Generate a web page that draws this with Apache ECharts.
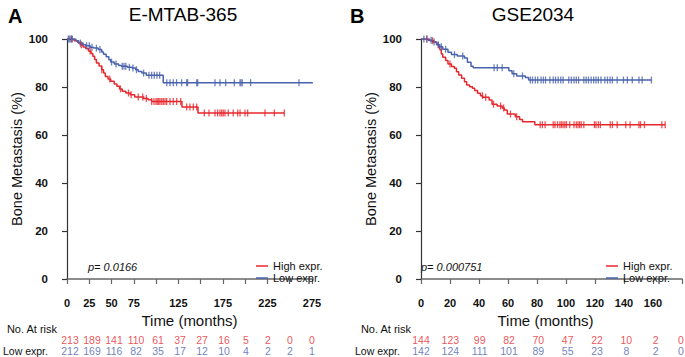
<!DOCTYPE html>
<html>
<head>
<meta charset="utf-8">
<script src="https://cdn.jsdelivr.net/npm/echarts@6/dist/echarts.min.js"></script>
<style>
html, body { margin: 0; padding: 0; background: #fff; }
#main { width: 685px; height: 357px; }
</style>
</head>
<body>
<div id="main"></div>
<script>
// panel A : E-MTAB-365
var timeHighA = [0, 8, 12, 15, 18, 21, 24, 27, 29, 31, 33, 36, 39, 41, 43, 46, 49, 53, 56, 59, 62, 66, 71, 76, 86, 91, 95, 129, 147];
var survHighA = [100, 99.3, 98.5, 97.6, 96.7, 96, 95, 94, 92.8, 91.5, 90, 88.8, 87.2, 85.8, 84.4, 83.3, 82.4, 81.3, 80.3, 79.2, 78.2, 77.5, 76.8, 75.8, 75.2, 74.7, 74.0, 71.7, 69.2];
var endHighA = 244;
var censHighA = [5, 16, 26, 39, 48, 60, 69, 72, 80, 85, 89, 95, 97.6, 99.9, 101.3, 102.9, 104.4, 106.3, 108.1, 110, 111.9, 115.6, 119.3, 123.1, 127.6,
  134.3, 138, 141.8, 145.6, 154.1, 159.4, 166.1, 169.1, 171.7, 173.6, 175.4, 177.3, 181, 186.6, 191.6, 194.2, 199.8, 202.8, 222.2, 232.7, 243.9];

var timeLowA = [0, 10, 13, 18, 21, 26, 30, 35, 39, 41, 44, 47, 49, 53, 58, 61, 68, 73, 77, 80, 84, 89, 108];
var survLowA = [100, 99.3, 98.3, 97.6, 97.2, 96.6, 96.2, 95.6, 94.6, 93.6, 92.6, 91.4, 90.4, 89.6, 89.0, 88.6, 88.2, 87.9, 87.2, 86.5, 85.8, 84.9, 81.8];
var endLowA = 276;
var censLowA = [1.5, 3, 4.5, 6, 15, 22, 25, 28, 33, 37, 50, 55, 62, 64, 66, 70, 74, 78, 86, 92, 95, 98, 101, 104,
  112, 115.6, 119.3, 123, 128.7, 134.3, 135.4, 145.6, 146.7, 166.1, 171.7, 178.1, 187.8, 194.2, 195.3, 196.7, 206.1, 260.4, 276];

var riskTimesA = [0, 25, 50, 75, 100, 125, 150, 175, 200, 225, 250, 275];
var riskHighA = [213, 189, 141, 110, 61, 37, 27, 16, 5, 2, 0, 0];
var riskLowA = [212, 169, 116, 82, 35, 17, 12, 10, 4, 2, 2, 1];
var xLabelsA = [0, 25, 50, 75, 125, 175, 225, 275];

// panel B : GSE2034
var timeHighB = [0, 6, 9, 11, 12, 13, 14, 15, 17, 18.6, 21, 23, 24.5, 26, 28, 30, 31.5, 33.5, 35.5, 37, 39, 41, 42.5, 47, 49, 52.5, 56, 57.5, 59.5, 65, 68, 70, 78.5];
var survHighB = [100, 99.3, 98.6, 97.9, 96.5, 95.5, 93.8, 92.4, 91, 89.6, 88.5, 87.8, 86.4, 85, 83.6, 82.2, 80.8, 80.1, 79.5, 78.5, 77.4, 76.4, 75.7, 74.6, 72.8, 72.1, 71.3, 70.4, 68.75, 67.6, 66.5, 65.5, 64.3];
var endHighB = 168.4;
var censHighB = [4, 8, 20, 42.4, 44.6, 50, 54.9, 57, 61.7, 66, 82.2, 83.7, 85.6, 91.2, 92.4, 94.2, 95.8, 96.9, 98, 99.2, 100.3, 102.6, 105.5, 107.1, 108.3,
  109.4, 110.5, 112.3, 119.6, 120.7, 122.3, 123.7, 130.5, 132, 135.3, 141.2, 144.2, 150.3, 151.4, 154.1, 166.1, 168.4];

var timeLowB = [0, 5, 8, 10.7, 13, 15, 18.6, 21, 25, 30, 32, 34.5, 36, 60.6, 62.8, 66, 72, 74.2];
var survLowB = [100, 99.5, 98.7, 97.6, 96.8, 95.7, 94.5, 93.5, 92.9, 92.1, 90.3, 88.6, 88.0, 86.8, 85.5, 84.6, 84.0, 82.9];
var endLowB = 158.9;
var censLowB = [2, 4, 7, 9, 12, 14, 17, 23.1, 28.8, 50.4, 52.6, 56, 64, 70, 75.4, 76.9, 78.8, 80.5, 82.8, 84.4, 85.9, 88.9, 91.2, 92.8, 94.6,
  96.4, 98, 101.9, 103.7, 105.5, 107.1, 108.7, 112.3, 113.9, 115.5, 117.3, 119.1, 120.7, 122.3, 124.1, 126.8, 128.6, 130.4, 132, 135.3,
  139.6, 142.3, 145.7, 150.3, 152.5, 158.9];

var riskTimesB = [0, 20, 40, 60, 80, 100, 120, 140, 160, 180];
var riskHighB = [144, 123, 99, 82, 70, 47, 22, 10, 2, 0];
var riskLowB = [142, 124, 111, 101, 89, 55, 23, 8, 2, 0];
var xLabelsB = [0, 20, 40, 60, 80, 100, 120, 140, 160];

var RED = '#e8272d';
var BLUE = '#4862ad';
var FONT = 'Liberation Sans, Arial, Helvetica, sans-serif';

function stepData(t, s, end) {
  var d = [];
  for (var i = 0; i < t.length; i++) d.push([t[i], s[i]]);
  d.push([end, s[s.length - 1]]);
  return d;
}
// censor marks sit on the curve at their time
function censData(t, s, cens) {
  return cens.map(function (c) {
    var v = s[0];
    for (var i = 0; i < t.length; i++) if (t[i] <= c) v = s[i];
    return [c, v];
  });
}
function riskData(times, n, row, max) {
  return times.map(function (t, i) {
    var item = { value: [t, row, n[i]] };
    // the last column is at the very edge of the picture: keep it inside
    if (t + 1 > max + 0.5 && max === 180) item.label = { offset: [-4, 0] };
    return item;
  });
}

function kmSeries(idx, name, t, s, end, cens, color) {
  return [{
    name: name, type: 'line', step: 'end', xAxisIndex: idx, yAxisIndex: idx,
    data: stepData(t, s, end), symbol: 'none', color: color,
    lineStyle: { color: color, width: 1.5 }
  }, {
    name: name + ' censored', type: 'scatter', xAxisIndex: idx, yAxisIndex: idx,
    data: censData(t, s, cens), symbol: 'rect', symbolSize: [1.3, 7],
    itemStyle: { color: color }, z: 3
  }];
}
function riskSeries(idx, name, times, n, color, max) {
  return {
    name: name + ' at risk', type: 'scatter', xAxisIndex: idx, yAxisIndex: idx,
    data: riskData(times, n, name, max), symbolSize: 0,
    label: { show: true, position: 'inside', color: color, fontSize: 10.5, lineHeight: 10, fontFamily: FONT,
      formatter: function (p) { return p.value[2]; } }
  };
}

function plotX(grid, max, interval, labels, nameGap, namePad) {
  return {
    type: 'value', gridIndex: grid, min: 0, max: max, interval: interval, offset: 9,
    name: 'Time (months)', nameLocation: 'middle', nameGap: nameGap,
    nameTextStyle: { fontSize: 15, color: '#111', fontFamily: FONT, padding: namePad },
    splitLine: { show: false },
    axisLine: { lineStyle: { color: '#666', width: 1.5 } },
    axisTick: { length: 5, lineStyle: { color: '#666', width: 1.2 } },
    axisLabel: { margin: 9, fontSize: 11, fontWeight: 'bold', color: '#111', fontFamily: FONT,
      formatter: function (v) { return labels.indexOf(v) >= 0 ? String(v) : ''; } }
  };
}
function plotY(grid) {
  return {
    type: 'value', gridIndex: grid, min: 0, max: 100, interval: 20, offset: 10,
    name: 'Bone Metastasis (%)', nameLocation: 'middle', nameGap: 29,
    nameTextStyle: { fontSize: 14.5, color: '#111', fontFamily: FONT },
    splitLine: { show: false },
    axisLine: { show: true, lineStyle: { color: '#333', width: 1.2 } },
    axisTick: { show: true, length: 5, lineStyle: { color: '#333', width: 1.2 } },
    axisLabel: { margin: 9, fontSize: 11.5, fontWeight: 'bold', color: '#111', fontFamily: FONT }
  };
}
function riskX(grid, max) {
  return { type: 'value', gridIndex: grid, min: 0, max: max, show: false };
}
function riskY(grid, margin) {
  return {
    type: 'category', gridIndex: grid, data: ['Low expr.', 'High expr.'],
    axisLine: { show: false }, axisTick: { show: false }, splitLine: { show: false },
    axisLabel: { align: 'left', margin: margin, fontSize: 10.5, lineHeight: 10, color: '#111', fontFamily: FONT }
  };
}

var series = []
  .concat(kmSeries(0, 'High expr.', timeHighA, survHighA, endHighA, censHighA, RED))
  .concat(kmSeries(0, 'Low expr.', timeLowA, survLowA, endLowA, censLowA, BLUE))
  .concat(kmSeries(2, 'High expr.', timeHighB, survHighB, endHighB, censHighB, RED))
  .concat(kmSeries(2, 'Low expr.', timeLowB, survLowB, endLowB, censLowB, BLUE));
series.push(riskSeries(1, 'High expr.', riskTimesA, riskHighA, RED, 275));
series.push(riskSeries(1, 'Low expr.', riskTimesA, riskLowA, BLUE, 275));
series.push(riskSeries(3, 'High expr.', riskTimesB, riskHighB, RED, 180));
series.push(riskSeries(3, 'Low expr.', riskTimesB, riskLowB, BLUE, 180));

function legendAt(left) {
  return {
    left: left, top: 255, orient: 'vertical', data: ['High expr.', 'Low expr.'],
    icon: 'rect', itemWidth: 12, itemHeight: 1.5, itemGap: 0,
    textStyle: { fontSize: 11, lineHeight: 12, color: '#111', fontFamily: FONT }
  };
}
function textAt(x, y, txt, align, style) {
  return { type: 'text', x: x, y: y,
    style: { text: txt, align: align, verticalAlign: 'middle', fill: '#111', font: style + ' ' + FONT } };
}

var chart = echarts.init(document.getElementById('main'), null, { renderer: 'svg' });
chart.setOption({
  animation: false,
  backgroundColor: '#fff',
  title: [
    { text: 'A', left: 3, top: 1, textStyle: { fontSize: 20, fontWeight: 'bold', color: '#000', fontFamily: FONT } },
    { text: 'E-MTAB-365', left: 178, top: 0, textAlign: 'center', textStyle: { fontSize: 19, fontWeight: 'normal', color: '#000', fontFamily: FONT } },
    { text: 'B', left: 345, top: 1, textStyle: { fontSize: 20, fontWeight: 'bold', color: '#000', fontFamily: FONT } },
    { text: 'GSE2034', left: 528, top: 0, textAlign: 'center', textStyle: { fontSize: 19, fontWeight: 'normal', color: '#000', fontFamily: FONT } }
  ],
  legend: [legendAt(251), legendAt(601)],
  grid: [
    { left: 67, top: 39, width: 245, height: 240 },
    { left: 67, top: 334, width: 245, height: 22 },
    { left: 421, top: 39, width: 264.4, height: 240 },
    { left: 421, top: 334, width: 264.4, height: 22 }
  ],
  xAxis: [plotX(0, 275, 25, xLabelsA, 25, [0, 0, 0, 0]), riskX(1, 275), plotX(2, 180, 20, xLabelsB, 25, [0, 12, 0, 0]), riskX(3, 180)],
  yAxis: [plotY(0), riskY(1, 67), plotY(2), riskY(3, 66)],
  graphic: [
    textAt(88, 267, 'p= 0.0166', 'left', 'italic 11px'),
    textAt(421, 267, 'p= 0.000751', 'left', 'italic 11px'),
    textAt(57, 329, 'No. At risk', 'right', '11px'),
    textAt(411, 329, 'No. At risk', 'right', '11px')
  ],
  series: series
});
</script>
</body>
</html>
